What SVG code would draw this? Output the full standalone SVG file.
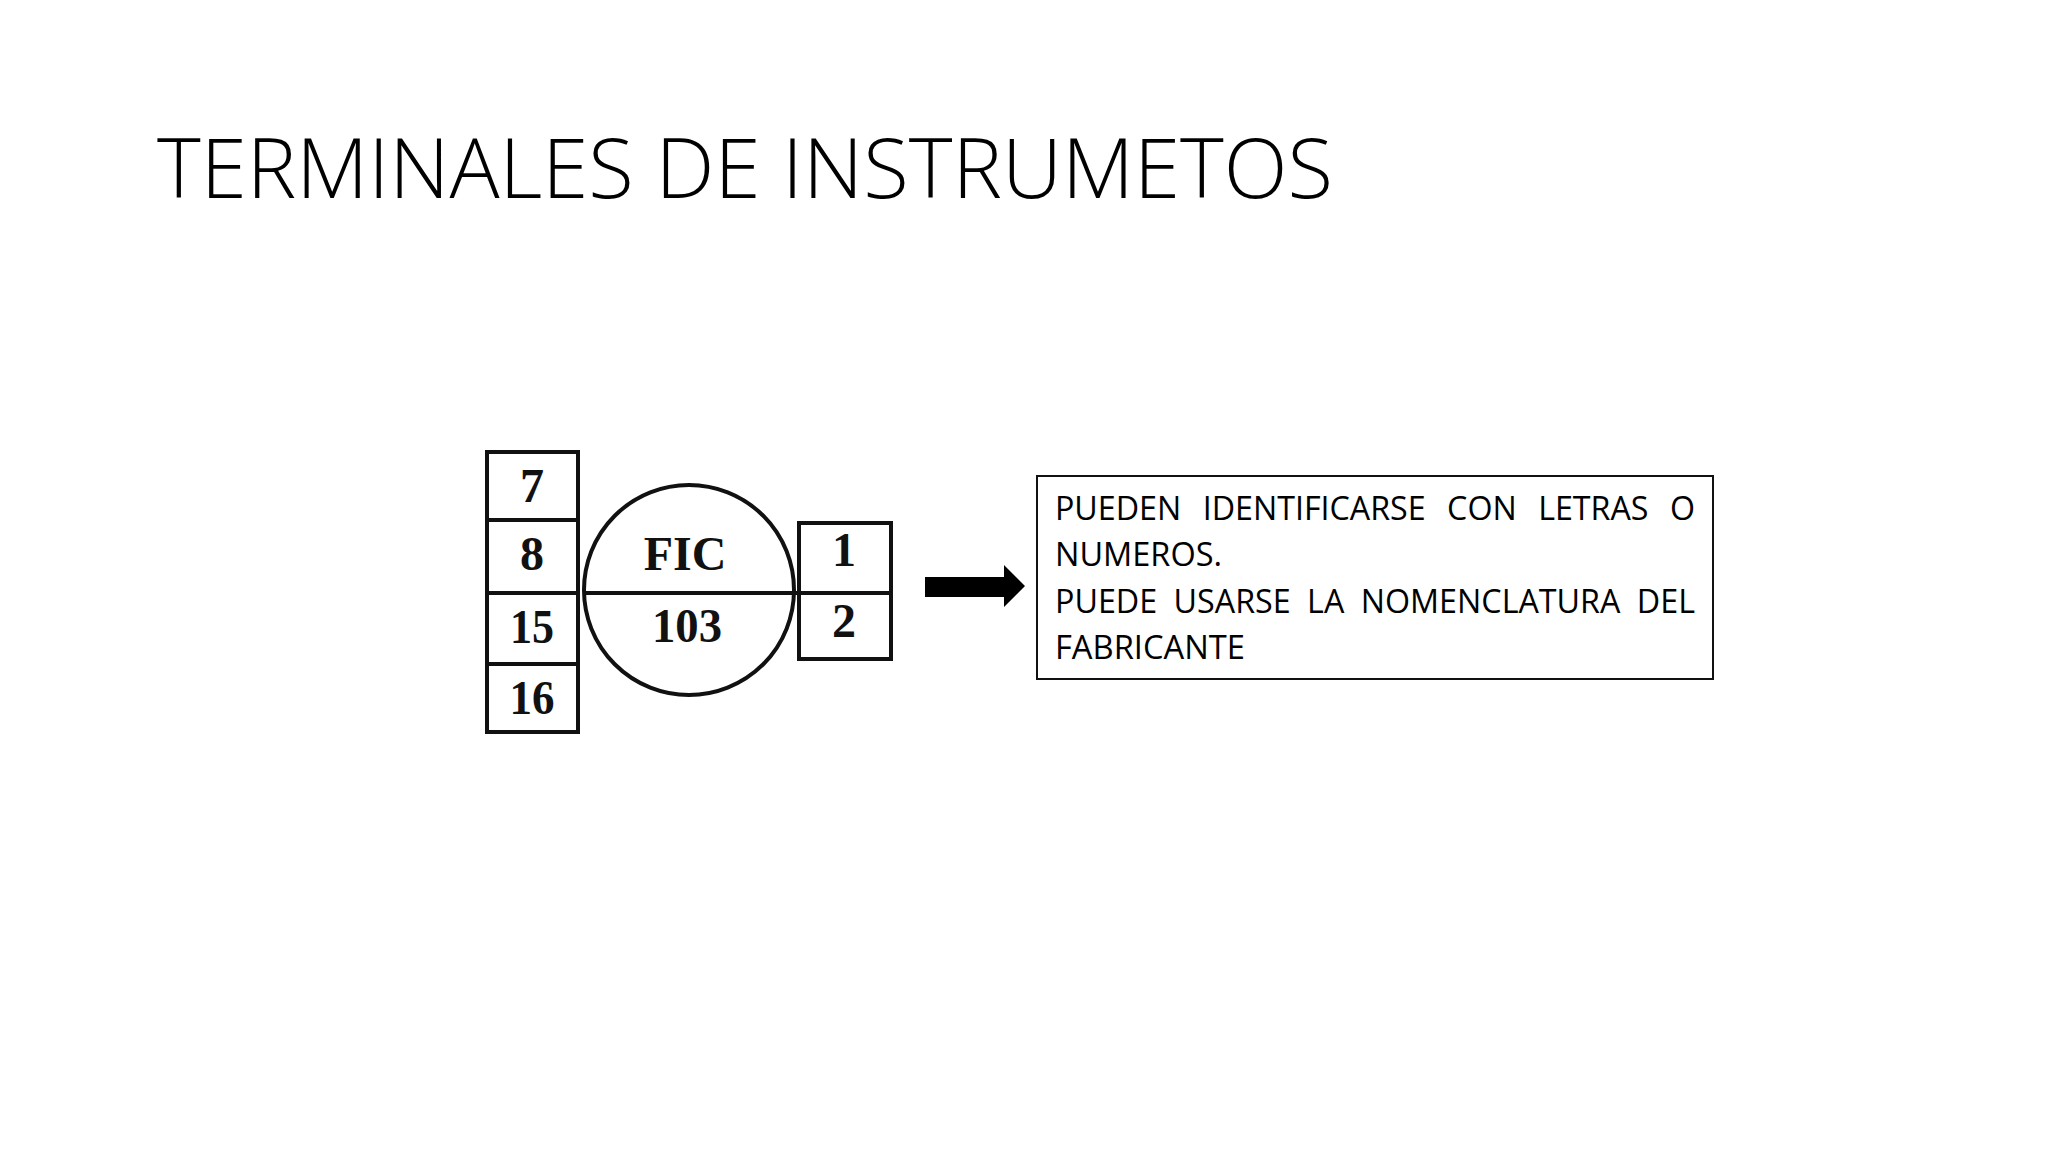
<svg xmlns="http://www.w3.org/2000/svg" width="2048" height="1152" viewBox="0 0 2048 1152">
  <style>
    .title { font-family: "Open Sans", "Liberation Sans", sans-serif; font-weight: 300; font-size: 83px; fill: #000; }
    .term { font-family: "Liberation Serif", "Times New Roman", serif; font-weight: bold; font-size: 48px; fill: #111; text-anchor: middle; }
    .box { fill: none; stroke: #111; stroke-width: 4; }
    .note { font-family: "Open Sans", "Liberation Sans", sans-serif; font-size: 32px; fill: #000; }
    .notebox { fill: #fff; stroke: #111; stroke-width: 2; }
  </style>
  <rect width="2048" height="1152" fill="#fff"/>

  <g id="title">
    <text class="title" x="157" y="198" textLength="1176" lengthAdjust="spacingAndGlyphs">TERMINALES DE INSTRUMETOS</text>
  </g>

  <g id="instrument-FIC103">
    <g id="terminals-left">
      <rect class="box" x="487" y="452" width="91" height="280"/>
      <line class="box" x1="487" y1="520" x2="578" y2="520"/>
      <line class="box" x1="487" y1="593" x2="578" y2="593"/>
      <line class="box" x1="487" y1="664" x2="578" y2="664"/>
      <text class="term" x="532" y="502">7</text>
      <text class="term" x="532" y="570">8</text>
      <text class="term" x="532" y="643" textLength="44" lengthAdjust="spacingAndGlyphs">15</text>
      <text class="term" x="532" y="714" textLength="45" lengthAdjust="spacingAndGlyphs">16</text>
    </g>
    <g id="bubble">
      <circle class="box" cx="689" cy="590" r="105"/>
      <line class="box" x1="583" y1="593" x2="799" y2="593"/>
      <text class="term" x="685" y="570">FIC</text>
      <text class="term" x="687" y="642" textLength="70" lengthAdjust="spacingAndGlyphs">103</text>
    </g>
    <g id="terminals-right">
      <rect class="box" x="799" y="523" width="92" height="136"/>
      <line class="box" x1="799" y1="593" x2="891" y2="593"/>
      <text class="term" x="844" y="566">1</text>
      <text class="term" x="844" y="637">2</text>
    </g>
  </g>

  <g id="connectors">
    <polygon points="925,577 1004,577 1004,565 1025,586 1004,607 1004,597 925,597" fill="#000"/>
  </g>

  <g id="note">
    <rect class="notebox" x="1037" y="476" width="676" height="203"/>
    <text class="note" x="1055" y="520" word-spacing="13" textLength="640" lengthAdjust="spacingAndGlyphs">PUEDEN IDENTIFICARSE CON LETRAS O</text>
    <text class="note" x="1055" y="566" textLength="167" lengthAdjust="spacingAndGlyphs">NUMEROS.</text>
    <text class="note" x="1055" y="613" word-spacing="8" textLength="640" lengthAdjust="spacingAndGlyphs">PUEDE USARSE LA NOMENCLATURA DEL</text>
    <text class="note" x="1055" y="659" textLength="190" lengthAdjust="spacingAndGlyphs">FABRICANTE</text>
  </g>
</svg>
